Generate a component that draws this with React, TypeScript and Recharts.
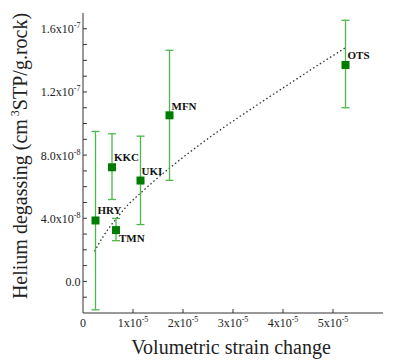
import React from "react";
import { ComposedChart, XAxis, YAxis, Scatter, Line, ErrorBar } from "recharts";

const siteNames = ["HRY", "KKC", "TMN", "UKI", "MFN", "OTS"];
const strainValues = [2.5e-6, 5.8e-6, 6.6e-6, 1.15e-5, 1.73e-5, 5.25e-5];
const heliumValues = [3.86e-8, 7.23e-8, 3.25e-8, 6.39e-8, 1.052e-7, 1.371e-7];
const heliumLow = [-1.8e-8, 5.19e-8, 2.58e-8, 3.6e-8, 6.4e-8, 1.1e-7];
const heliumHigh = [9.5e-8, 9.35e-8, 3.99e-8, 9.2e-8, 1.464e-7, 1.654e-7];

const fitStrain = [2.3e-6, 3e-6, 5e-6, 7e-6, 9e-6, 1.1e-5, 1.4e-5, 1.7e-5, 2.1e-5, 2.7e-5, 3.4e-5, 4e-5, 4.7e-5, 5.25e-5];
const fitHelium = [1.9e-8, 2.3e-8, 3.3e-8, 4.1e-8, 4.85e-8, 5.45e-8, 6.3e-8, 7.1e-8, 8.1e-8, 9.5e-8, 1.1e-7, 1.225e-7, 1.37e-7, 1.48e-7];

const xTicks = [0, 1e-5, 2e-5, 3e-5, 4e-5, 5e-5];
const xTickText = ["0", "1x10", "2x10", "3x10", "4x10", "5x10"];
const xTickExp = ["", "-5", "-5", "-5", "-5", "-5"];

const yTicks = [-1e-8, 0, 1e-8, 2e-8, 3e-8, 4e-8, 5e-8, 6e-8, 7e-8, 8e-8, 9e-8, 1e-7, 1.1e-7, 1.2e-7, 1.3e-7, 1.4e-7, 1.5e-7, 1.6e-7];
const yLabelValues = [0, 4e-8, 8e-8, 1.2e-7, 1.6e-7];
const yTickText = ["0.0", "4.0x10", "8.0x10", "1.2x10", "1.6x10"];
const yTickExp = ["", "-8", "-8", "-7", "-7"];

const points = siteNames.map((name, i) => ({
  name,
  x: strainValues[i],
  y: heliumValues[i],
  err: [heliumValues[i] - heliumLow[i], heliumHigh[i] - heliumValues[i]],
}));
const fitData = fitStrain.map((x, i) => ({ x, fit: fitHelium[i] }));

const labelOffsets: Record<string, [number, number]> = {
  HRY: [2, -6],
  KKC: [2, -6],
  TMN: [3, 12],
  UKI: [1, -6],
  MFN: [2, -5],
  OTS: [2, -6],
};

const FONT = "'Liberation Serif', 'Times New Roman', serif";
const AXIS = "#333";
const TXT = "#222";

const near = (a: number, b: number) => Math.abs(a - b) < 1e-12;

const LeftTick = (props: any) => {
  const { x, y, payload } = props;
  const idx = yLabelValues.findIndex((v) => near(v, payload.value));
  return (
    <g>
      <line x1={x} x2={x + 4} y1={y} y2={y} stroke={AXIS} strokeWidth={1} />
      {idx >= 0 && (
        <text x={x - 2.5} y={y + 4.5} textAnchor="end" fontFamily={FONT} fontSize={12} fill={TXT}>
          {yTickText[idx]}
          {yTickExp[idx] && (
            <tspan fontSize={8} dy={-5}>
              {yTickExp[idx]}
            </tspan>
          )}
        </text>
      )}
    </g>
  );
};

const RightTick = (props: any) => {
  const { x, y } = props;
  return <line x1={x} x2={x - 4} y1={y} y2={y} stroke={AXIS} strokeWidth={1} />;
};

const BottomTick = (props: any) => {
  const { x, y, payload } = props;
  const idx = xTicks.findIndex((v) => near(v, payload.value));
  return (
    <g>
      {idx > 0 && <line x1={x} x2={x} y1={y} y2={y - 4} stroke={AXIS} strokeWidth={1} />}
      {idx >= 0 && (
        <text x={x} y={y + 14} textAnchor="middle" fontFamily={FONT} fontSize={12} fill={TXT}>
          {xTickText[idx]}
          {xTickExp[idx] && (
            <tspan fontSize={8} dy={-5}>
              {xTickExp[idx]}
            </tspan>
          )}
        </text>
      )}
    </g>
  );
};

const TopTick = (props: any) => {
  const { x, y, payload } = props;
  if (near(payload.value, 0)) return <g />;
  return <line x1={x} x2={x} y1={y} y2={y + 4} stroke={AXIS} strokeWidth={1} />;
};

const PointShape = (props: any) => {
  const { cx, cy, payload } = props;
  const off = labelOffsets[payload.name] || [2, -6];
  return (
    <g>
      <rect x={cx - 4} y={cy - 4} width={8} height={8} fill="#007c00" />
      <text
        x={cx + off[0]}
        y={cy + off[1]}
        fontFamily={FONT}
        fontSize={11}
        fontWeight="bold"
        fill="#111"
      >
        {payload.name}
      </text>
    </g>
  );
};

export default function App() {
  return (
    <div style={{ position: "absolute", left: 0, top: 0, width: 401, height: 362, background: "#fff" }}>
      <ComposedChart width={401} height={362} margin={{ top: 13, right: 18, bottom: 0, left: 0 }}>
        <XAxis
          dataKey="x"
          type="number"
          domain={[0, 6e-5]}
          allowDataOverflow
          ticks={xTicks}
          interval={0}
          height={49}
          tickSize={0}
          tickMargin={0}
          tickLine={false}
          axisLine={{ stroke: AXIS, strokeWidth: 1 }}
          tick={<BottomTick />}
        />
        <XAxis
          xAxisId="top"
          orientation="top"
          dataKey="x"
          type="number"
          domain={[0, 6e-5]}
          allowDataOverflow
          ticks={xTicks}
          interval={0}
          height={0}
          tickSize={0}
          tickMargin={0}
          tickLine={false}
          axisLine={{ stroke: AXIS, strokeWidth: 1 }}
          tick={<TopTick />}
        />
        <YAxis
          type="number"
          domain={[-2e-8, 1.7e-7]}
          allowDataOverflow
          ticks={yTicks}
          interval={0}
          width={83}
          tickSize={0}
          tickMargin={0}
          tickLine={false}
          axisLine={{ stroke: AXIS, strokeWidth: 1 }}
          tick={<LeftTick />}
        />
        <YAxis
          yAxisId="right"
          orientation="right"
          type="number"
          domain={[-2e-8, 1.7e-7]}
          allowDataOverflow
          ticks={yTicks}
          interval={0}
          width={0}
          tickSize={0}
          tickMargin={0}
          tickLine={false}
          axisLine={{ stroke: AXIS, strokeWidth: 1 }}
          tick={<RightTick />}
        />
        <Line
          data={fitData}
          dataKey="fit"
          type="monotone"
          stroke="#333"
          strokeWidth={1.3}
          strokeDasharray="1.5 2.5"
          dot={false}
          activeDot={false}
          isAnimationActive={false}
        />
        <Scatter data={points} dataKey="y" shape={<PointShape />} isAnimationActive={false}>
          <ErrorBar dataKey="err" direction="y" width={4} stroke="#4cb84c" strokeWidth={1.3} />
        </Scatter>
        <text
          x={27}
          y={156}
          transform="rotate(-90 27 156)"
          textAnchor="middle"
          fontFamily={FONT}
          fontSize={20}
          fill={TXT}
        >
          Helium degassing (cm
          <tspan fontSize={12} dy={-8}> 3</tspan>
          <tspan dy={8}>STP/g.rock)</tspan>
        </text>
        <text x={231} y={354} textAnchor="middle" fontFamily={FONT} fontSize={20} fill={TXT}>
          Volumetric strain change
        </text>
      </ComposedChart>
    </div>
  );
}
